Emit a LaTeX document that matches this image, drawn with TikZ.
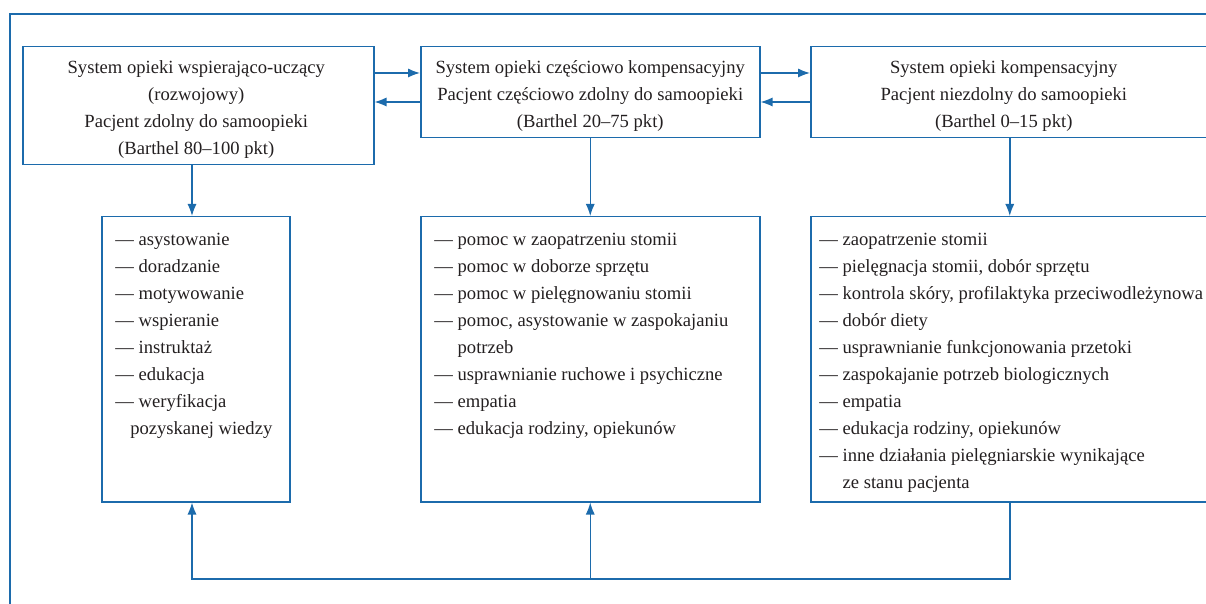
\documentclass[tikz,border=0pt]{standalone}
\usepackage{fontspec}
\setmainfont{Liberation Serif}
\usepackage{xcolor}
\usetikzlibrary{positioning,arrows.meta}
\definecolor{frameblue}{RGB}{28,107,172}
\definecolor{textgray}{RGB}{35,31,32}

\begin{document}
\begin{tikzpicture}[x=0.5pt,y=-0.5pt,
    box/.style={draw=frameblue, line width=0.75pt, inner sep=0pt, anchor=north west},
    title/.style={align=center, inner sep=0pt, text=textgray, font=\fontsize{9.3}{13.5}\selectfont},
    list/.style={anchor=north west, align=left, inner sep=0pt, text=textgray, font=\fontsize{9.3}{13.5}\selectfont},
    link/.style={draw=frameblue, line width=0.75pt, -{Latex[length=6pt,width=4.6pt]}},
  ]
    % page size and clipping
    \path[use as bounding box] (0,0) rectangle (1206,604);
    \clip (0,0) rectangle (1206,604);

    % outer frame, cut at the right and bottom
    \draw[frameblue, line width=0.75pt] (1230,14) -- (10,14) -- (10,630);

    % the three care systems
    \node[box, minimum width=175.5pt, minimum height=59pt] (sys1) at (22,46) {};
    \node[box, minimum width=169.5pt, minimum height=45.5pt] (sys2) at (420,46) {};
    \node[box, minimum width=199pt, minimum height=45.5pt] (sys3) at (810,46) {};

    \node[title] (title1) at ([shift={(-2,3.5)}]sys1.center)
        {System opieki wspierająco-uczący\\(rozwojowy)\\Pacjent zdolny do samoopieki\\(Barthel 80--100 pkt)};
    \node[title] (title2) at ([shift={(0,3.5)}]sys2.center)
        {System opieki częściowo kompensacyjny\\Pacjent częściowo zdolny do samoopieki\\(Barthel 20--75 pkt)};
    \node[title] (title3) at ([shift={(-6,3.5)}]sys3.center)
        {System opieki kompensacyjny\\Pacjent niezdolny do samoopieki\\(Barthel 0--15 pkt)};

    % boxes with the nursing actions
    \node[box, minimum width=94pt, minimum height=142.5pt] (care1) at (101,216) {};
    \node[box, minimum width=169.5pt, minimum height=142.5pt] (care2) at (420,216) {};
    \node[box, minimum width=199pt, minimum height=142.5pt] (care3) at (810,216) {};

    \node[list] (list1) at ([shift={(14,17)}]care1.north west)
        {--- asystowanie\\--- doradzanie\\--- motywowanie\\--- wspieranie\\--- instruktaż\\--- edukacja\\--- weryfikacja\\\hspace*{0.8em}pozyskanej wiedzy};
    \node[list] (list2) at ([shift={(14,17)}]care2.north west)
        {--- pomoc w zaopatrzeniu stomii\\--- pomoc w doborze sprzętu\\--- pomoc w pielęgnowaniu stomii\\--- pomoc, asystowanie w zaspokajaniu\\\phantom{--- }potrzeb\\--- usprawnianie ruchowe i psychiczne\\--- empatia\\--- edukacja rodziny, opiekunów};
    \node[list] (list3) at ([shift={(9,17)}]care3.north west)
        {--- zaopatrzenie stomii\\--- pielęgnacja stomii, dobór sprzętu\\--- kontrola skóry, profilaktyka przeciwodleżynowa\\--- dobór diety\\--- usprawnianie funkcjonowania przetoki\\--- zaspokajanie potrzeb biologicznych\\--- empatia\\--- edukacja rodziny, opiekunów\\--- inne działania pielęgniarskie wynikające\\\phantom{--- }ze stanu pacjenta};

    % arrows between the systems
    \coordinate (hi) at (0,73);
    \coordinate (lo) at (0,102);
    \coordinate (base) at (0,579);
    \coordinate (col1) at (192,0);
    \draw[link] (sys1.east |- hi) -- (sys2.west |- hi);
    \draw[link] (sys2.west |- lo) -- (sys1.east |- lo);
    \draw[link] (sys2.east |- hi) -- (sys3.west |- hi);
    \draw[link] (sys3.west |- lo) -- (sys2.east |- lo);

    % from each system down to its actions
    \draw[link] (sys1.south -| col1) -- (care1.north -| col1);
    \draw[link] (sys2.south) -- (care2.north);
    \draw[link] (sys3.south) -- (care3.north);

    % feedback line along the bottom
    \draw[link] (care3.south) -- (care3.south |- base) -| (care1.south -| col1);
    \draw[link] (care2.south |- base) -- (care2.south);
\end{tikzpicture}
\end{document}
